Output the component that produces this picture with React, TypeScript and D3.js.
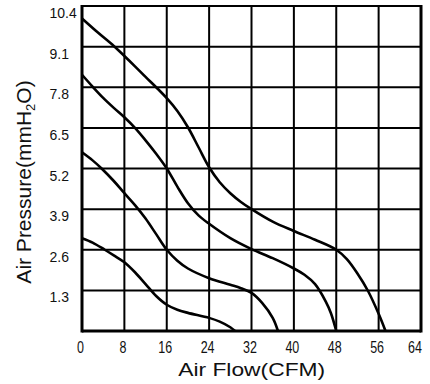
import React from "react";
import * as d3 from "d3";

const xTicks = [0, 8, 16, 24, 32, 40, 48, 56, 64];
const yTicks = [0, 1.3, 2.6, 3.9, 5.2, 6.5, 7.8, 9.1, 10.4];
const yTickLabels = ["", "1.3", "2.6", "3.9", "5.2", "6.5", "7.8", "9.1", "10.4"];

const flow1 = [0, 3, 6, 8, 10, 12, 14, 16, 18, 20, 22, 24, 26, 28, 30, 32, 36, 40, 44, 48, 50, 52, 54, 56, 57.3];
const pres1 = [10.0, 9.55, 9.12, 8.8, 8.47, 8.13, 7.8, 7.45, 7.04, 6.52, 5.88, 5.24, 4.76, 4.41, 4.13, 3.9, 3.5, 3.2, 2.92, 2.6, 2.3, 1.84, 1.28, 0.55, 0];

const flow2 = [0, 2, 4, 6, 8, 10, 12, 14, 16, 18, 20, 22, 24, 28, 32, 36, 40, 42, 44, 46, 47, 48];
const pres2 = [8.2, 7.82, 7.46, 7.14, 6.84, 6.5, 6.1, 5.67, 5.2, 4.62, 4.09, 3.7, 3.43, 2.97, 2.62, 2.33, 2.0, 1.8, 1.5, 0.95, 0.57, 0];

const flow3 = [0, 2, 3.7, 6, 8, 10, 12, 14, 16, 18, 20, 24, 28, 30, 32, 34, 36, 37];
const pres3 = [5.72, 5.46, 5.2, 4.8, 4.41, 4.03, 3.6, 3.1, 2.6, 2.25, 2.0, 1.69, 1.48, 1.37, 1.22, 0.9, 0.42, 0];

const flow4 = [0, 2, 4.3, 6, 8, 10, 12, 14, 16, 18, 20, 24, 26, 28, 28.9];
const pres4 = [2.97, 2.83, 2.6, 2.42, 2.2, 1.88, 1.5, 1.12, 0.84, 0.68, 0.58, 0.42, 0.3, 0.12, 0];

const seriesFlows = [flow1, flow2, flow3, flow4];
const seriesPres = [pres1, pres2, pres3, pres4];

export default function App() {
  const W = 430, H = 384;
  const left = 82, right = 421, top = 6, bottom = 331;
  const x = d3.scaleLinear().domain([0, 64]).range([left, right]);
  const y = d3.scaleLinear().domain([0, 10.4]).range([bottom, top]);
  const line = d3
    .line<[number, number]>()
    .x((d) => x(d[0]))
    .y((d) => y(d[1]))
    .curve(d3.curveCatmullRom.alpha(0.5));
  const font = "'Liberation Sans', Arial, sans-serif";

  return (
    <svg
      width={W}
      height={H}
      style={{ position: "absolute", left: 0, top: 0, background: "#fff" }}
      fontFamily={font}
    >
      <rect x={0} y={0} width={W} height={H} fill="#fff" />
      {xTicks.map((t) => (
        <line key={"vx" + t} x1={x(t)} x2={x(t)} y1={top} y2={bottom} stroke="#000" strokeWidth={2} />
      ))}
      {yTicks.map((t) => (
        <line key={"hy" + t} x1={left} x2={right} y1={y(t)} y2={y(t)} stroke="#000" strokeWidth={2} />
      ))}
      <line x1={left} x2={left} y1={top - 1} y2={bottom + 1.5} stroke="#000" strokeWidth={3} />
      <line x1={right} x2={right} y1={top - 1} y2={bottom + 1.5} stroke="#000" strokeWidth={3} />
      <line x1={left} x2={right} y1={bottom} y2={bottom} stroke="#000" strokeWidth={3} />
      {seriesFlows.map((fl, i) => (
        <path
          key={"c" + i}
          d={line(fl.map((f, j) => [f, seriesPres[i][j]] as [number, number])) || ""}
          fill="none"
          stroke="#000"
          strokeWidth={2.6}
          strokeLinejoin="round"
        />
      ))}
      {yTicks.map((t, i) =>
        yTickLabels[i] ? (
          <text key={"yl" + t} x={49.5} y={y(t) + 12} fontSize={14} fill="#111">
            {yTickLabels[i]}
          </text>
        ) : null
      )}
      {xTicks.map((t, i) => {
        const last = i === xTicks.length - 1;
        return (
          <text
            key={"xl" + t}
            transform={`translate(${last ? x(t) + 1 : x(t) - 1.5},353) scale(1,1.35)`}
            textAnchor={last ? "end" : "middle"}
            fontSize={12.5}
            fill="#111"
          >
            {t}
          </text>
        );
      })}
      <text x={251.7} y={376} textAnchor="middle" fontSize={19} textLength={147} lengthAdjust="spacingAndGlyphs" fill="#111">
        Air Flow(CFM)
      </text>
      <text
        transform="translate(31,182) rotate(-90)"
        textAnchor="middle"
        fontSize={21}
        fill="#111"
      >
        Air Pressure(mmH
        <tspan fontSize={13} dy={4}>2</tspan>
        <tspan dy={-4}>O)</tspan>
      </text>
    </svg>
  );
}
